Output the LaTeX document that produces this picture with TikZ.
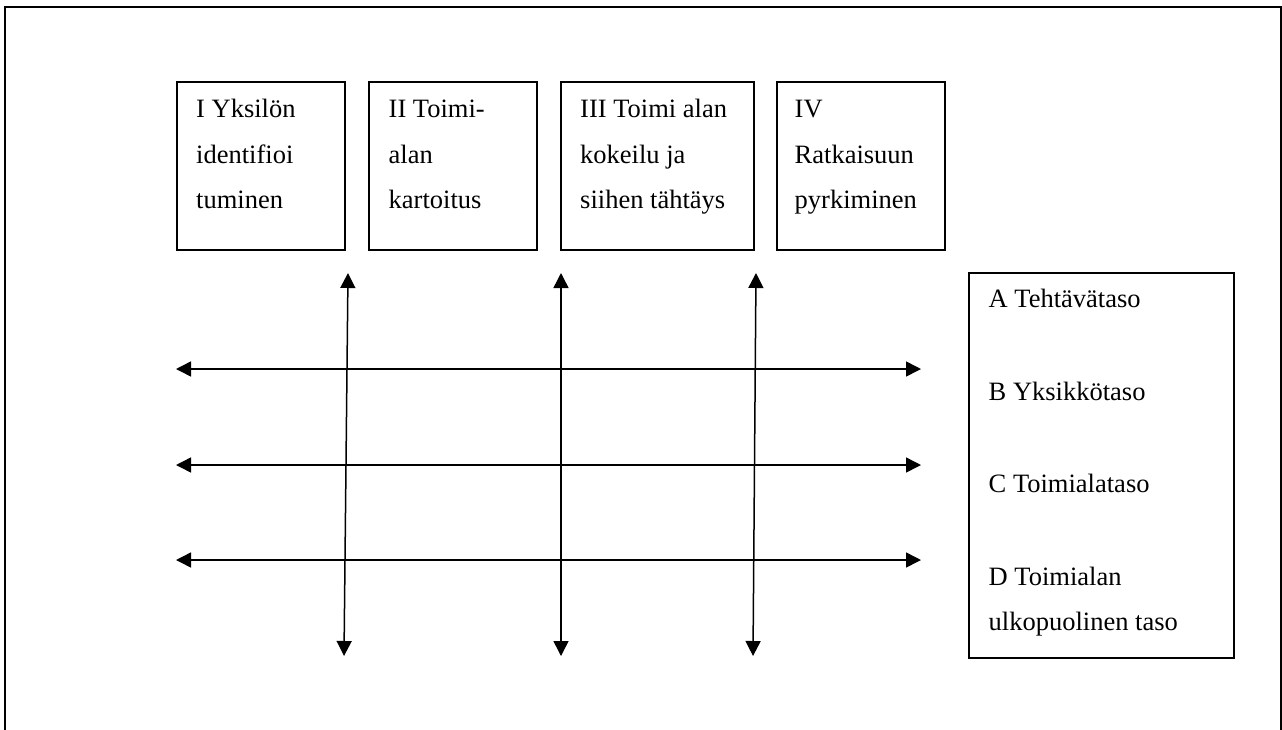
\documentclass[tikz,border=0pt]{standalone}
\usepackage{fontspec}
\setmainfont{Liberation Serif}
\usetikzlibrary{arrows.meta}
\begin{document}
\begin{tikzpicture}[x=1pt,y=-1pt,
  frame/.style={line width=2pt},
  phasebox/.style={draw,line width=1.6pt,inner sep=0pt,anchor=north west,minimum height=168pt},
  levelbox/.style={draw,line width=1.6pt,inner sep=0pt,anchor=north west,minimum width=265pt,minimum height=385pt},
  txt/.style={anchor=base west,inner sep=0pt,font=\fontsize{26.5pt}{45.5pt}\selectfont},
  twoway/.style={line width=1.5pt,{Triangle[length=15pt,width=15pt]}-{Triangle[length=15pt,width=15pt]}}
]
\useasboundingbox (0,0) rectangle (1282,729);

% outer frame, open at the bottom
\draw[frame] (5,731) -- (5,7) -- (1281,7) -- (1281,731);

% phase boxes
\node[phasebox,minimum width=168pt] (p1) at (176,81) {};
\node[phasebox,minimum width=168pt] (p2) at (368,81) {};
\node[phasebox,minimum width=193pt] (p3) at (560,81) {};
\node[phasebox,minimum width=168pt] (p4) at (776,81) {};

\node[txt] (p1a) at (196,117) {I Yksilön};
\node[txt] (p1b) at (196,163) {identifioi};
\node[txt] (p1c) at (196,208) {tuminen};

\node[txt] (p2a) at (388.5,117) {II Toimi-};
\node[txt] (p2b) at (388.5,163) {alan};
\node[txt] (p2c) at (388.5,208) {kartoitus};

\node[txt] (p3a) at (580,117) {III Toimi alan};
\node[txt] (p3b) at (580,163) {kokeilu ja};
\node[txt] (p3c) at (580,208) {siihen tähtäys};

\node[txt] (p4a) at (794.5,117) {IV};
\node[txt] (p4b) at (794.5,163) {Ratkaisuun};
\node[txt] (p4c) at (794.5,208) {pyrkiminen};

% level box
\node[levelbox] (lv) at (968,272) {};
\node[txt] (lva) at (988.5,307) {A Tehtävätaso};
\node[txt] (lvb) at (988.5,400) {B Yksikkötaso};
\node[txt] (lvc) at (988.5,492) {C Toimialataso};
\node[txt] (lvd) at (988.5,585) {D Toimialan};
\node[txt] (lve) at (988.5,630) {ulkopuolinen taso};

% arrow end points
\coordinate (v1t) at (348,273);
\coordinate (v1b) at (344,656);
\coordinate (v2t) at (561,273);
\coordinate (v2b) at (561,656);
\coordinate (v3t) at (756,273);
\coordinate (v3b) at (753,656);
\coordinate (h1l) at (176,369);
\coordinate (h1r) at (921,369);
\coordinate (h2l) at (176,465);
\coordinate (h2r) at (921,465);
\coordinate (h3l) at (176,560);
\coordinate (h3r) at (921,560);

% horizontal two-way arrows
\draw[twoway] (h1l) -- (h1r);
\draw[twoway] (h2l) -- (h2r);
\draw[twoway] (h3l) -- (h3r);

% vertical two-way arrows
\draw[twoway] (v1t) -- (v1b);
\draw[twoway] (v2t) -- (v2b);
\draw[twoway] (v3t) -- (v3b);
\end{tikzpicture}
\end{document}
